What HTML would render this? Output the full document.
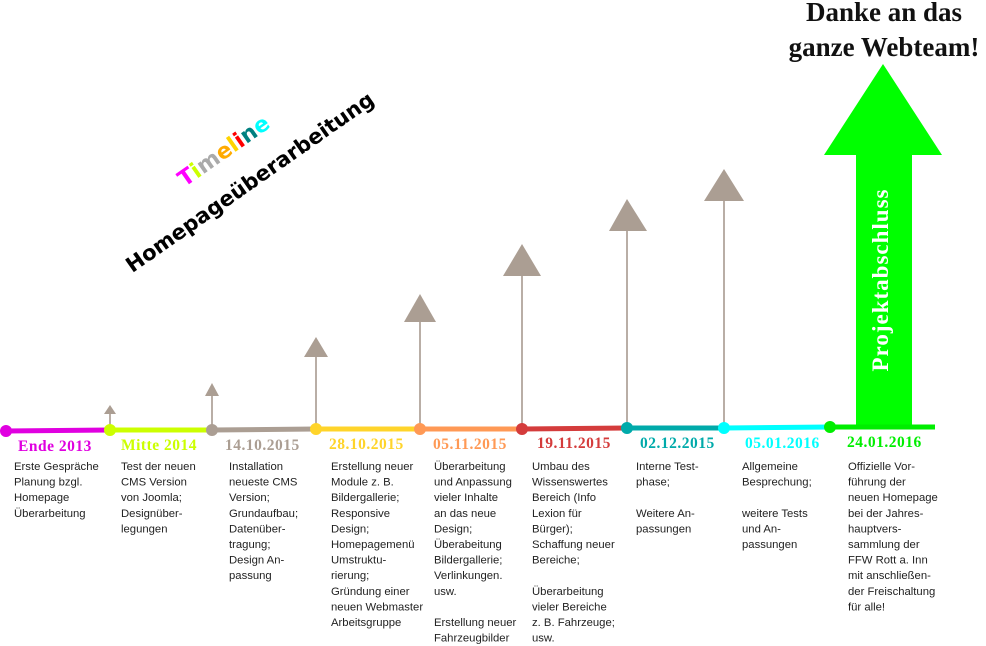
<!DOCTYPE html>
<html><head><meta charset="utf-8"><style>
html,body{margin:0;padding:0;background:#fff;}
svg{display:block}
.d{font-family:"Liberation Serif",serif;font-weight:bold;font-size:15.5px;letter-spacing:0.5px}
.b{font-family:"Liberation Sans",sans-serif;font-size:11.3px;fill:#222}
</style></head><body>
<svg width="986" height="646" viewBox="0 0 986 646" xmlns="http://www.w3.org/2000/svg">
<g stroke="#b9aea6" stroke-width="2">
<line x1="110" y1="430" x2="110" y2="412"/>
<line x1="212" y1="430" x2="212" y2="394"/>
<line x1="316" y1="430" x2="316" y2="355"/>
<line x1="420" y1="430" x2="420" y2="320"/>
<line x1="522" y1="430" x2="522" y2="274"/>
<line x1="627" y1="430" x2="627" y2="229"/>
<line x1="724" y1="430" x2="724" y2="199"/>
</g>
<g fill="#ab9e93">
<polygon points="110,405 104,414 116,414"/>
<polygon points="212,383 205,396 219,396"/>
<polygon points="316,337 304,357 328,357"/>
<polygon points="420,294 404,322 436,322"/>
<polygon points="522,244 503,276 541,276"/>
<polygon points="627,199 609,231 647,231"/>
<polygon points="724,169 704,201 744,201"/>
</g>
<polygon fill="#00ff00" points="883,64 942,155 912,155 912,428 856,428 856,155 824,155"/>
<text transform="translate(888,280) rotate(-90)" text-anchor="middle" font-family="Liberation Serif,serif" font-weight="bold" font-size="23" fill="#fff" letter-spacing="1">Projektabschluss</text>
<g stroke-width="5" stroke-linecap="butt">
<line x1="6" y1="431" x2="110" y2="430" stroke="#e000e0"/>
<line x1="110" y1="430" x2="212" y2="430" stroke="#ccff00"/>
<line x1="212" y1="430" x2="316" y2="429" stroke="#ab9e93"/>
<line x1="316" y1="429" x2="420" y2="429" stroke="#ffd42a"/>
<line x1="420" y1="429" x2="522" y2="429" stroke="#ff9955"/>
<line x1="522" y1="429" x2="627" y2="428" stroke="#d43c3c"/>
<line x1="627" y1="428" x2="724" y2="428" stroke="#00aaaa"/>
<line x1="724" y1="428" x2="830" y2="427" stroke="#00ffff"/>
<line x1="830" y1="427" x2="935" y2="427" stroke="#00ee00"/>
</g>
<circle cx="6" cy="431" r="6" fill="#e000e0"/>
<circle cx="110" cy="430" r="6" fill="#ccff00"/>
<circle cx="212" cy="430" r="6" fill="#ab9e93"/>
<circle cx="316" cy="429" r="6" fill="#ffd42a"/>
<circle cx="420" cy="429" r="6" fill="#ff9955"/>
<circle cx="522" cy="429" r="6" fill="#d43c3c"/>
<circle cx="627" cy="428" r="6" fill="#00aaaa"/>
<circle cx="724" cy="428" r="6" fill="#00ffff"/>
<circle cx="830" cy="427" r="6" fill="#00ee00"/>
<text class="d" x="18" y="451" fill="#e000e0">Ende 2013</text>
<text class="d" x="121" y="450" fill="#ccff00">Mitte 2014</text>
<text class="d" x="225" y="450" fill="#ab9e93">14.10.2015</text>
<text class="d" x="329" y="449" fill="#ffd42a">28.10.2015</text>
<text class="d" x="433" y="449" fill="#ff9955">05.11.2015</text>
<text class="d" x="537" y="448" fill="#d43c3c">19.11.2015</text>
<text class="d" x="640" y="448" fill="#00aaaa">02.12.2015</text>
<text class="d" x="745" y="448" fill="#00ffff">05.01.2016</text>
<text class="d" x="847" y="447" fill="#00ee00">24.01.2016</text>
<text class="b"><tspan x="14" y="470">Erste Gespräche</tspan><tspan x="14" dy="15.6">Planung bzgl.</tspan><tspan x="14" dy="15.6">Homepage</tspan><tspan x="14" dy="15.6">Überarbeitung</tspan></text>
<text class="b"><tspan x="121" y="470">Test der neuen</tspan><tspan x="121" dy="15.6">CMS Version</tspan><tspan x="121" dy="15.6">von Joomla;</tspan><tspan x="121" dy="15.6">Designüber-</tspan><tspan x="121" dy="15.6">legungen</tspan></text>
<text class="b"><tspan x="229" y="470">Installation</tspan><tspan x="229" dy="15.6">neueste CMS</tspan><tspan x="229" dy="15.6">Version;</tspan><tspan x="229" dy="15.6">Grundaufbau;</tspan><tspan x="229" dy="15.6">Datenüber-</tspan><tspan x="229" dy="15.6">tragung;</tspan><tspan x="229" dy="15.6">Design An-</tspan><tspan x="229" dy="15.6">passung</tspan></text>
<text class="b"><tspan x="331" y="470">Erstellung neuer</tspan><tspan x="331" dy="15.6">Module z. B.</tspan><tspan x="331" dy="15.6">Bildergallerie;</tspan><tspan x="331" dy="15.6">Responsive</tspan><tspan x="331" dy="15.6">Design;</tspan><tspan x="331" dy="15.6">Homepagemenü</tspan><tspan x="331" dy="15.6">Umstruktu-</tspan><tspan x="331" dy="15.6">rierung;</tspan><tspan x="331" dy="15.6">Gründung einer</tspan><tspan x="331" dy="15.6">neuen Webmaster</tspan><tspan x="331" dy="15.6">Arbeitsgruppe</tspan></text>
<text class="b"><tspan x="434" y="470">Überarbeitung</tspan><tspan x="434" dy="15.6">und Anpassung</tspan><tspan x="434" dy="15.6">vieler Inhalte</tspan><tspan x="434" dy="15.6">an das neue</tspan><tspan x="434" dy="15.6">Design;</tspan><tspan x="434" dy="15.6">Überabeitung</tspan><tspan x="434" dy="15.6">Bildergallerie;</tspan><tspan x="434" dy="15.6">Verlinkungen.</tspan><tspan x="434" dy="15.6">usw.</tspan><tspan x="434" dy="31.2">Erstellung neuer</tspan><tspan x="434" dy="15.6">Fahrzeugbilder</tspan></text>
<text class="b"><tspan x="532" y="470">Umbau des</tspan><tspan x="532" dy="15.6">Wissenswertes</tspan><tspan x="532" dy="15.6">Bereich (Info</tspan><tspan x="532" dy="15.6">Lexion für</tspan><tspan x="532" dy="15.6">Bürger);</tspan><tspan x="532" dy="15.6">Schaffung neuer</tspan><tspan x="532" dy="15.6">Bereiche;</tspan><tspan x="532" dy="31.2">Überarbeitung</tspan><tspan x="532" dy="15.6">vieler Bereiche</tspan><tspan x="532" dy="15.6">z. B. Fahrzeuge;</tspan><tspan x="532" dy="15.6">usw.</tspan></text>
<text class="b"><tspan x="636" y="470">Interne Test-</tspan><tspan x="636" dy="15.6">phase;</tspan><tspan x="636" dy="31.2">Weitere An-</tspan><tspan x="636" dy="15.6">passungen</tspan></text>
<text class="b"><tspan x="742" y="470">Allgemeine</tspan><tspan x="742" dy="15.6">Besprechung;</tspan><tspan x="742" dy="31.2">weitere Tests</tspan><tspan x="742" dy="15.6">und An-</tspan><tspan x="742" dy="15.6">passungen</tspan></text>
<text class="b"><tspan x="848" y="470">Offizielle Vor-</tspan><tspan x="848" dy="15.6">führung der</tspan><tspan x="848" dy="15.6">neuen Homepage</tspan><tspan x="848" dy="15.6">bei der Jahres-</tspan><tspan x="848" dy="15.6">hauptvers-</tspan><tspan x="848" dy="15.6">sammlung der</tspan><tspan x="848" dy="15.6">FFW Rott a. Inn</tspan><tspan x="848" dy="15.6">mit anschließen-</tspan><tspan x="848" dy="15.6">der Freischaltung</tspan><tspan x="848" dy="15.6">für alle!</tspan></text>
<text x="884" y="21" text-anchor="middle" font-family="Liberation Serif,serif" font-weight="bold" font-size="27" fill="#111">Danke an das</text>
<text x="884" y="56" text-anchor="middle" font-family="Liberation Serif,serif" font-weight="bold" font-size="27" fill="#111">ganze Webteam!</text>
<text transform="translate(228,157) rotate(-35)" text-anchor="middle" font-family="DejaVu Sans,sans-serif" font-weight="bold" font-size="22"><tspan fill="#ff00ff">T</tspan><tspan fill="#ccff00">i</tspan><tspan fill="#aaaaaa">m</tspan><tspan fill="#ffaa00">e</tspan><tspan fill="#ffd400">l</tspan><tspan fill="#ff0000">i</tspan><tspan fill="#008080">n</tspan><tspan fill="#00ffff">e</tspan></text>
<text transform="translate(254,188) rotate(-35)" text-anchor="middle" font-family="DejaVu Sans,sans-serif" font-weight="bold" font-size="21" fill="#000">Homepageüberarbeitung</text>
</svg>
</body></html>
